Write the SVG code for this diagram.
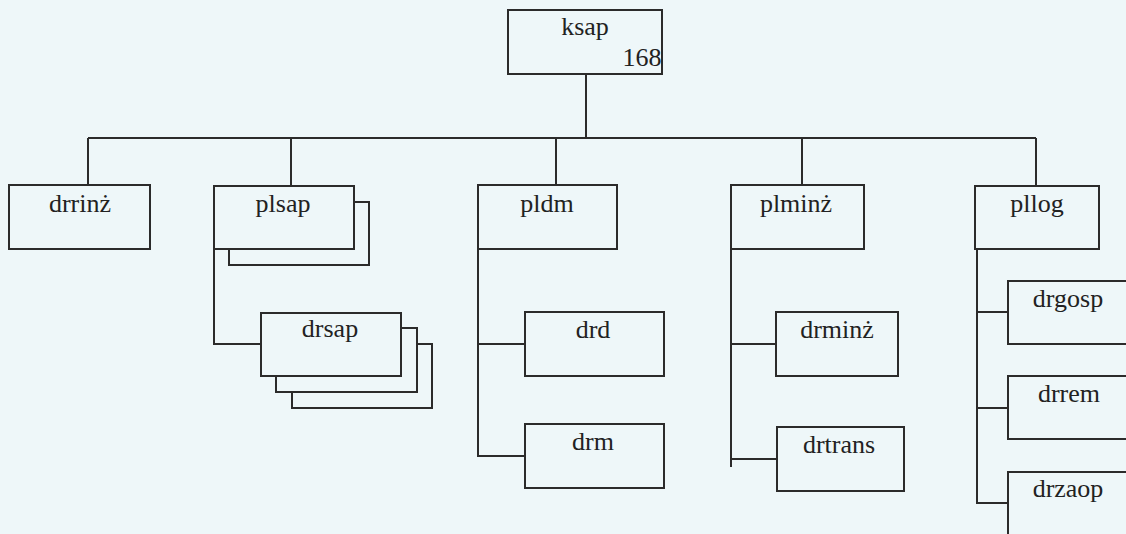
<svg xmlns="http://www.w3.org/2000/svg" width="1126" height="534" viewBox="0 0 1126 534">
<style>
.b{fill:#eef7f9;stroke:#2b2b2b;stroke-width:2}
.c{fill:none;stroke:#2b2b2b;stroke-width:2}
.t{font-family:"Liberation Serif","Times New Roman",serif;font-size:26px;fill:#222;text-anchor:middle}
</style>
<rect x="0" y="0" width="1126" height="534" fill="#eef7f9"/>
<g id="connectors">
<path class="c" d="M586 74V138M88 138H1036M88 138V185M291 138V186M556 138V185M802 138V185M1036 138V186"/>
<path class="c" d="M214 249V344H261"/>
<path class="c" d="M478 249V456H525M478 344H525"/>
<path class="c" d="M731 249V467M731 344H776M731 459H777"/>
<path class="c" d="M977 249V503H1008M977 312H1008M977 408H1008"/>
</g>
<g id="ksap"><rect class="b" x="508" y="10" width="154" height="64"/><text class="t" x="585" y="35">ksap</text><text class="t" x="642" y="66">168</text></g>
<g id="drrinz"><rect class="b" x="9" y="185" width="141" height="64"/><text class="t" x="80" y="212">drrinż</text></g>
<g id="plsap"><rect class="b" x="229" y="202" width="140" height="63"/><rect class="b" x="214" y="186" width="140" height="63"/><text class="t" x="283" y="212">plsap</text></g>
<g id="drsap"><rect class="b" x="292" y="344" width="140" height="64"/><rect class="b" x="276" y="328" width="141" height="64"/><rect class="b" x="261" y="313" width="140" height="63"/><text class="t" x="330" y="337">drsap</text></g>
<g id="pldm"><rect class="b" x="478" y="185" width="139" height="64"/><text class="t" x="547" y="212">pldm</text></g>
<g id="drd"><rect class="b" x="525" y="312" width="139" height="64"/><text class="t" x="593" y="338">drd</text></g>
<g id="drm"><rect class="b" x="525" y="424" width="139" height="64"/><text class="t" x="593" y="450">drm</text></g>
<g id="plminz"><rect class="b" x="731" y="185" width="133" height="64"/><text class="t" x="796" y="212">plminż</text></g>
<g id="drminz"><rect class="b" x="776" y="312" width="122" height="64"/><text class="t" x="837" y="338">drminż</text></g>
<g id="drtrans"><rect class="b" x="777" y="427" width="127" height="64"/><text class="t" x="839" y="453">drtrans</text></g>
<g id="pllog"><rect class="b" x="975" y="186" width="124" height="63"/><text class="t" x="1037" y="212">pllog</text></g>
<g id="drgosp"><rect class="b" x="1008" y="281" width="130" height="63"/><text class="t" x="1068" y="307">drgosp</text></g>
<g id="drrem"><rect class="b" x="1008" y="376" width="130" height="63"/><text class="t" x="1069" y="402">drrem</text></g>
<g id="drzaop"><rect class="b" x="1008" y="472" width="130" height="80"/><text class="t" x="1068" y="497">drzaop</text></g>
</svg>
